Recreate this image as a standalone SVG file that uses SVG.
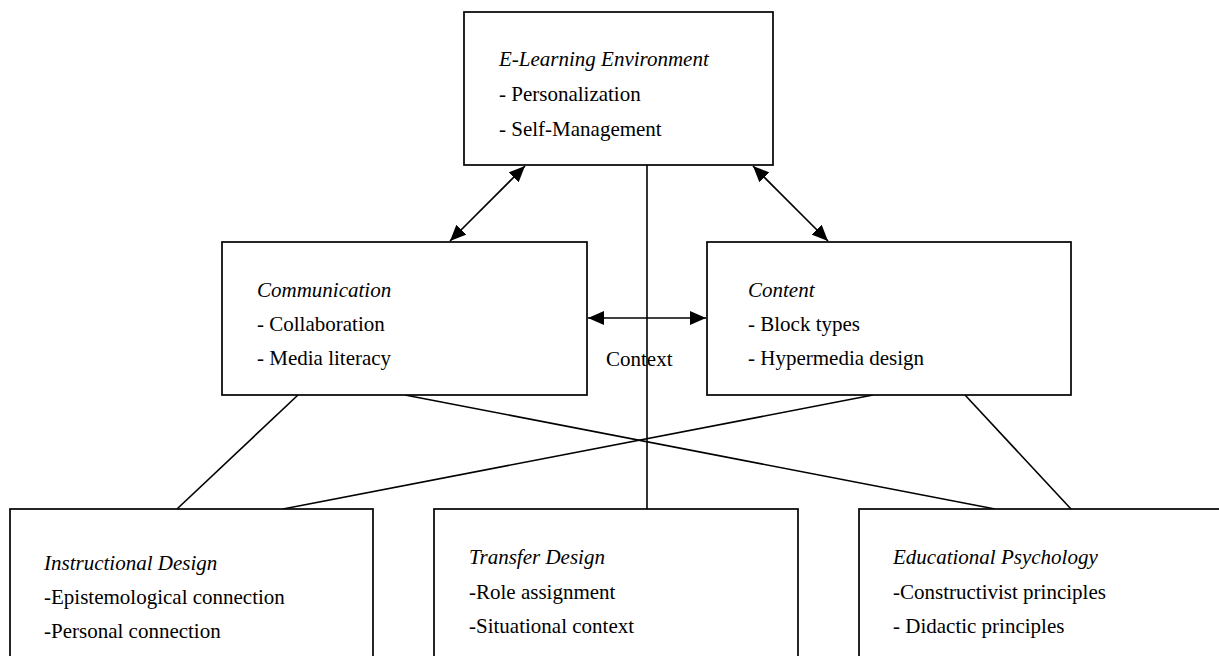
<svg xmlns="http://www.w3.org/2000/svg" width="1219" height="656" viewBox="0 0 1219 656">
<style>
.box{fill:#fff;stroke:#000;stroke-width:1.7}
.ln{stroke:#000;stroke-width:1.6;fill:none}
text{font-family:"Liberation Serif","Times New Roman",serif;font-size:21px;fill:#000}
.t{font-style:italic}
</style>
<defs>
<marker id="ah" markerWidth="16" markerHeight="14" refX="16" refY="7" orient="auto-start-reverse" markerUnits="userSpaceOnUse">
<path d="M0,0 L16,7 L0,14 Z" fill="#000"/>
</marker>
</defs>
<rect width="1219" height="656" fill="#fff"/>
<g id="connectors">
<line class="ln" x1="647" y1="165" x2="647" y2="509"/>
<line class="ln" x1="405" y1="395" x2="995" y2="509"/>
<line class="ln" x1="873" y1="395" x2="283" y2="509"/>
<line class="ln" x1="298" y1="395" x2="177" y2="509"/>
<line class="ln" x1="965" y1="395" x2="1071" y2="509"/>
<line class="ln" x1="525" y1="166" x2="450" y2="241" marker-start="url(#ah)" marker-end="url(#ah)"/>
<line class="ln" x1="753" y1="166" x2="828" y2="241" marker-start="url(#ah)" marker-end="url(#ah)"/>
<line class="ln" x1="588" y1="318" x2="706" y2="318" marker-start="url(#ah)" marker-end="url(#ah)"/>
<text x="606" y="366">Context</text>
</g>
<g id="elearning">
<rect class="box" x="464" y="12" width="309" height="153"/>
<text class="t" x="499" y="66">E-Learning Environment</text>
<text x="499" y="101">- Personalization</text>
<text x="499" y="136">- Self-Management</text>
</g>
<g id="communication">
<rect class="box" x="222" y="242" width="365" height="153"/>
<text class="t" x="257" y="297">Communication</text>
<text x="257" y="331">- Collaboration</text>
<text x="257" y="365">- Media literacy</text>
</g>
<g id="content">
<rect class="box" x="707" y="242" width="364" height="153"/>
<text class="t" x="748" y="297">Content</text>
<text x="748" y="331">- Block types</text>
<text x="748" y="365">- Hypermedia design</text>
</g>
<g id="instructional">
<rect class="box" x="10" y="509" width="363" height="170"/>
<text class="t" x="44" y="570">Instructional Design</text>
<text x="44" y="604">-Epistemological connection</text>
<text x="44" y="638">-Personal connection</text>
</g>
<g id="transfer">
<rect class="box" x="434" y="509" width="364" height="170"/>
<text class="t" x="469" y="564">Transfer Design</text>
<text x="469" y="599">-Role assignment</text>
<text x="469" y="633">-Situational context</text>
</g>
<g id="psychology">
<rect class="box" x="859" y="509" width="380" height="170"/>
<text class="t" x="893" y="564">Educational Psychology</text>
<text x="893" y="599">-Constructivist principles</text>
<text x="893" y="633">- Didactic principles</text>
</g>
</svg>
